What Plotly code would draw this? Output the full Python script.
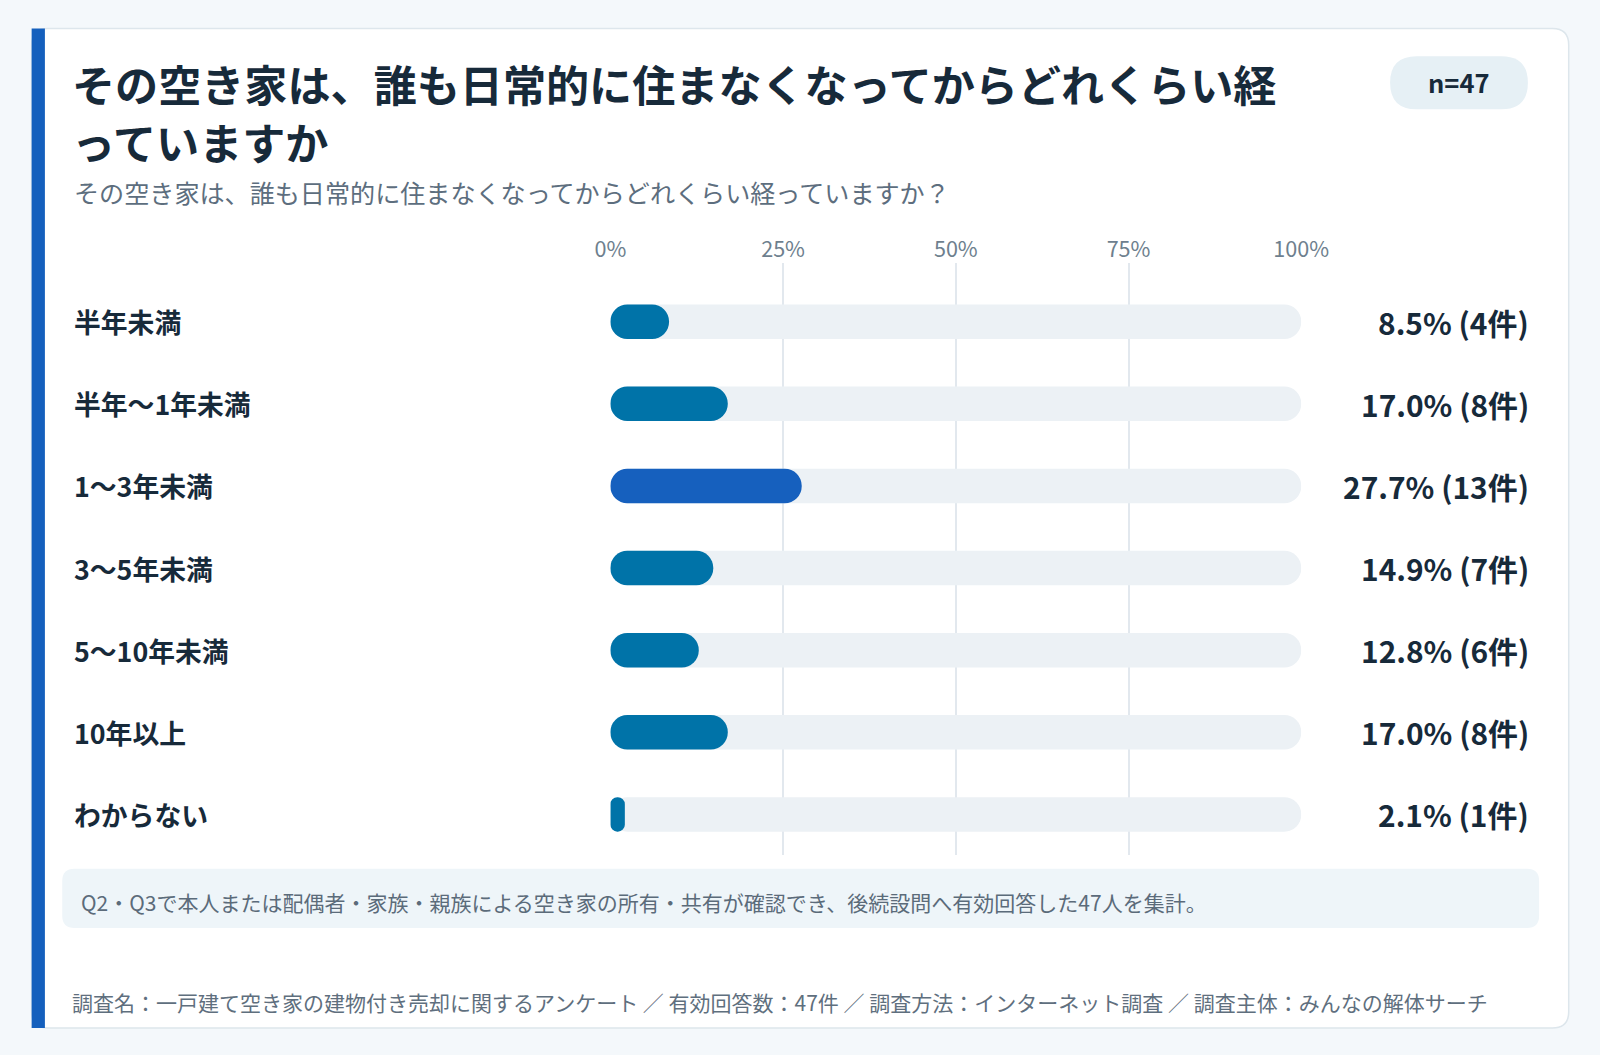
import plotly.graph_objects as go

# 画面上の見た目(1600x1055)に合わせる座標系。実際の描画は S 倍で作る
W, H = 1600, 1055
S = 1 / 0.98

# データ
categories = ["半年未満", "半年〜1年未満", "1〜3年未満", "3〜5年未満", "5〜10年未満", "10年以上", "わからない"]
percents = [8.5, 17.0, 27.7, 14.9, 12.8, 17.0, 2.1]
counts = [4, 8, 13, 7, 6, 8, 1]
highlight = "1〜3年未満"
x_ticks = [0, 25, 50, 75, 100]
x_tick_labels = ["0%", "25%", "50%", "75%", "100%"]
n_total = 47

title_lines = ["その空き家は、誰も日常的に住まなくなってからどれくらい経", "っていますか"]
subtitle = "その空き家は、誰も日常的に住まなくなってからどれくらい経っていますか？"
note = "Q2・Q3で本人または配偶者・家族・親族による空き家の所有・共有が確認でき、後続設問へ有効回答した47人を集計。"
source = "調査名：一戸建て空き家の建物付き売却に関するアンケート ／ 有効回答数：47件 ／ 調査方法：インターネット調査 ／ 調査主体：みんなの解体サーチ"

FONT = "Noto Sans CJK JP"
DARK = "#172a3a"
BAR = "#0073a8"
BAR_HI = "#1660be"
TRACK = "#ecf1f5"


def px(x):
    return x / W


def py(y):
    return 1 - y / H


def fs(size):
    return round(size * S, 1)


def rrect(x0, y0, x1, y1, r):
    # 角丸の四角形 (paper座標のパス)
    X0, X1 = px(x0), px(x1)
    Y0, Y1 = py(y0), py(y1)
    rx, ry = r / W, r / H
    return (f"M{X0 + rx},{Y0} L{X1 - rx},{Y0} Q{X1},{Y0} {X1},{Y0 - ry} "
            f"L{X1},{Y1 + ry} Q{X1},{Y1} {X1 - rx},{Y1} L{X0 + rx},{Y1} "
            f"Q{X0},{Y1} {X0},{Y1 + ry} L{X0},{Y0 - ry} Q{X0},{Y0} {X0 + rx},{Y0} Z")


fig = go.Figure()

# 背景トラック (base を明示すると両端が丸くなる)
fig.add_trace(go.Bar(
    y=categories, x=[100] * len(categories), base=[0] * len(categories), orientation="h",
    marker=dict(color=TRACK, cornerradius=fs(17), line=dict(width=0)),
    width=0.42, hoverinfo="skip", showlegend=False,
))

fig.add_trace(go.Bar(
    y=categories, x=percents, base=[0] * len(categories), orientation="h",
    marker=dict(color=[BAR_HI if c == highlight else BAR for c in categories],
                cornerradius=fs(17), line=dict(width=0)),
    width=0.42, showlegend=False,
    hovertemplate="%{y}: %{x:.1f}%<extra></extra>",
))

annotations = []
for c, p, n in zip(categories, percents, counts):
    annotations.append(dict(
        x=px(70.6), xref="paper", xanchor="left", y=c, yref="y",
        text=c, showarrow=False,
        font=dict(family=FONT, size=fs(26.3), color=DARK, weight="bold"),
    ))
    annotations.append(dict(
        x=px(1500), xref="paper", xanchor="right", y=c, yref="y",
        text=f"{p:.1f}% ({n}件)", showarrow=False,
        font=dict(family=FONT, size=fs(29.3), color=DARK, weight="bold"),
    ))

for i, (line, ty) in enumerate(zip(title_lines, [81, 138])):
    annotations.append(dict(
        x=px(69), y=py(ty), xref="paper", yref="paper", xanchor="left", yanchor="middle",
        text=line, showarrow=False,
        font=dict(family=FONT, size=fs(42.2), color=DARK, weight="bold")))

annotations += [
    dict(x=px(70.6), y=py(188), xref="paper", yref="paper", xanchor="left", yanchor="middle",
         text=subtitle, showarrow=False,
         font=dict(family=FONT, size=fs(24.6), color="#5d6e7e")),
    dict(x=px(1429), y=py(79.5), xref="paper", yref="paper", xanchor="center", yanchor="middle",
         text=f"n={n_total}", showarrow=False,
         font=dict(family=FONT, size=fs(25), color=DARK, weight="bold")),
    dict(x=px(77.5), y=py(884), xref="paper", yref="paper", xanchor="left", yanchor="middle",
         text=note, showarrow=False,
         font=dict(family=FONT, size=fs(20.6), color="#5b6b7a")),
    dict(x=px(69), y=py(981.5), xref="paper", yref="paper", xanchor="left", yanchor="middle",
         text=source, showarrow=False,
         font=dict(family=FONT, size=fs(20.6), color="#5f6f7e")),
]

shapes = [
    # カード
    dict(type="path", xref="paper", yref="paper", layer="below",
         path=rrect(31, 28, 1537, 1007, 16),
         fillcolor="white", line=dict(color="#dde6ec", width=1.5)),
    # 左のアクセント
    dict(type="rect", xref="paper", yref="paper", layer="below",
         x0=px(31), x1=px(44), y0=py(1007), y1=py(28),
         fillcolor="#1560bd", line=dict(width=0)),
    # n= バッジ
    dict(type="path", xref="paper", yref="paper", layer="below",
         path=rrect(1362, 55, 1497, 107, 26),
         fillcolor="#e6f0f5", line=dict(width=0)),
    # 注記ボックス
    dict(type="path", xref="paper", yref="paper", layer="below",
         path=rrect(61, 851, 1508, 909, 12),
         fillcolor="#eef5f9", line=dict(width=0)),
]

fig.update_layout(
    width=round(W * S), height=round(H * S),
    margin=dict(l=0, r=0, t=0, b=0, pad=0, autoexpand=False),
    paper_bgcolor="#f4f8fb",
    plot_bgcolor="rgba(0,0,0,0)",
    barmode="overlay",
    font=dict(family=FONT),
    annotations=annotations,
    shapes=shapes,
    xaxis=dict(
        domain=[px(598), px(1275)], range=[0, 100], side="top",
        tickvals=x_ticks, ticktext=x_tick_labels,
        tickfont=dict(family=FONT, size=fs(21.2), color="#6e7f8e"),
        showgrid=True, gridcolor="#e2e8ee", gridwidth=1.5,
        zeroline=False, showline=False, ticks="", ticklabelstandoff=1,
        automargin=False, fixedrange=True,
    ),
    yaxis=dict(
        domain=[py(838), py(258)], range=[6.5, -0.71],
        showticklabels=False, showgrid=False, zeroline=False, showline=False,
        automargin=False, fixedrange=True,
    ),
)

fig.write_html(
    "out.html",
    config={"displayModeBar": False},
    post_script=("document.body.style.margin='0';document.body.style.overflow='hidden';"
                 "document.body.style.background='#f4f8fb';"),
)
